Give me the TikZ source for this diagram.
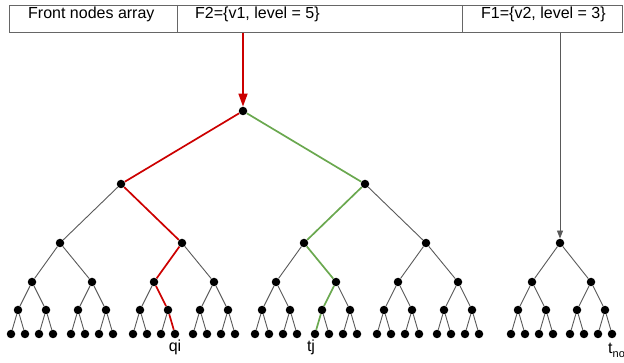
\documentclass[tikz,border=0pt]{standalone}
\usepackage{fontspec}
\setmainfont{Liberation Sans}
\usetikzlibrary{arrows.meta, positioning, calc}
\definecolor{PathRed}{HTML}{CC0000}
\definecolor{PathGreen}{HTML}{6AA84F}
\definecolor{EdgeGray}{HTML}{595959}
\definecolor{BoxGray}{HTML}{666666}

\begin{document}
\begin{tikzpicture}[
    x=1pt, y=-1pt,   % pixel-like units, y grows downwards
    dot/.style={circle, fill=black, inner sep=0pt, minimum size=8.5pt},
    lbl/.style={font=\fontsize{16}{19}\selectfont, inner sep=0pt}
]
    \useasboundingbox (0,0) rectangle (624,363);

    % === FRONT NODES ARRAY ===
    \node[draw=BoxGray, line width=0.8pt, inner sep=0pt, minimum width=613pt, minimum height=27pt, anchor=north west] (HeadBox) at (9,5) {};
    \draw[BoxGray, line width=0.8pt] (HeadBox.north west) ++(168,0) -- ++(0,27);
    \draw[BoxGray, line width=0.8pt] (HeadBox.north west) ++(453,0) -- ++(0,27);

    \node[lbl, anchor=base west] (CellFront) at (28,19) {Front nodes array};
    \node[lbl, anchor=base west] (CellF2) at (195,19) {F2=\{v1, level = 5\}};
    \node[lbl, anchor=base west] (CellF1) at (481,19) {F1=\{v2, level = 3\}};

    % === MAIN TREE (v1, level 5) ===
    \node[dot] (Main-0-0) at (243,111) {};
    % children placed below their parent: left offset / right offset / drop
    \foreach \lvl/\nxt/\dl/\dr/\dy in {0/1/122/122/73, 1/2/61/61/59, 2/3/28/32/39, 3/4/14/14/28, 4/5/7/7/24} {
        \pgfmathtruncatemacro\last{2^\lvl-1}
        \foreach \i in {0,...,\last} {
            \pgfmathtruncatemacro\jl{2*\i}
            \pgfmathtruncatemacro\jr{2*\i+1}
            \path (Main-\lvl-\i) ++(-\dl,\dy) node[dot] (Main-\nxt-\jl) {};
            \path (Main-\lvl-\i) ++(\dr,\dy) node[dot] (Main-\nxt-\jr) {};
        }
    }

    % edges; the paths down to leaf 11 (qi) and leaf 20 (tj) are coloured
    \foreach \nxt in {1,...,5} {
        \pgfmathtruncatemacro\prv{\nxt-1}
        \pgfmathtruncatemacro\last{2^\nxt-1}
        \pgfmathtruncatemacro\redj{floor(11/2^(5-\nxt))}
        \pgfmathtruncatemacro\greenj{floor(20/2^(5-\nxt))}
        \foreach \j in {0,...,\last} {
            \pgfmathtruncatemacro\i{floor(\j/2)}
            \ifnum\j=\redj\relax \def\ecol{PathRed}\def\ewid{1.7pt}%
            \else\ifnum\j=\greenj\relax \def\ecol{PathGreen}\def\ewid{1.7pt}%
            \else \def\ecol{EdgeGray}\def\ewid{0.9pt}\fi\fi
            \draw[draw=\ecol, line width=\ewid] (Main-\prv-\i) -- (Main-\nxt-\j);
        }
    }

    % === SIDE TREE (v2, level 3) ===
    \node[dot] (Side-0-0) at (560,243) {};
    \foreach \lvl/\nxt/\dl/\dr/\dy in {0/1/28/31/39, 1/2/14/14/28, 2/3/7/7/24} {
        \pgfmathtruncatemacro\last{2^\lvl-1}
        \foreach \i in {0,...,\last} {
            \pgfmathtruncatemacro\jl{2*\i}
            \pgfmathtruncatemacro\jr{2*\i+1}
            \path (Side-\lvl-\i) ++(-\dl,\dy) node[dot] (Side-\nxt-\jl) {};
            \path (Side-\lvl-\i) ++(\dr,\dy) node[dot] (Side-\nxt-\jr) {};
            \draw[EdgeGray, line width=0.9pt] (Side-\lvl-\i) -- (Side-\nxt-\jl);
            \draw[EdgeGray, line width=0.9pt] (Side-\lvl-\i) -- (Side-\nxt-\jr);
        }
    }

    % === POINTERS FROM THE ARRAY ===
    \draw[PathRed, line width=1.7pt, -{Triangle[width=9pt, length=13pt]}] (HeadBox.south -| Main-0-0) -- (Main-0-0);
    \draw[EdgeGray, line width=0.9pt, -{Triangle[width=6pt, length=8pt]}] (HeadBox.south -| Side-0-0) -- (Side-0-0);

    % === LEAF LABELS ===
    \node[lbl, anchor=base] (LabelQi) at ($(Main-5-11)+(0,18)$) {qi};
    \node[lbl, anchor=base] (LabelTj) at ($(Main-5-20)+(-4,18)$) {tj};
    \node[lbl, anchor=base west] (LabelTno) at ($(Side-3-7)+(-4,19)$) {t\raisebox{-4pt}{\fontsize{11}{13}\selectfont no}};
\end{tikzpicture}
\end{document}
